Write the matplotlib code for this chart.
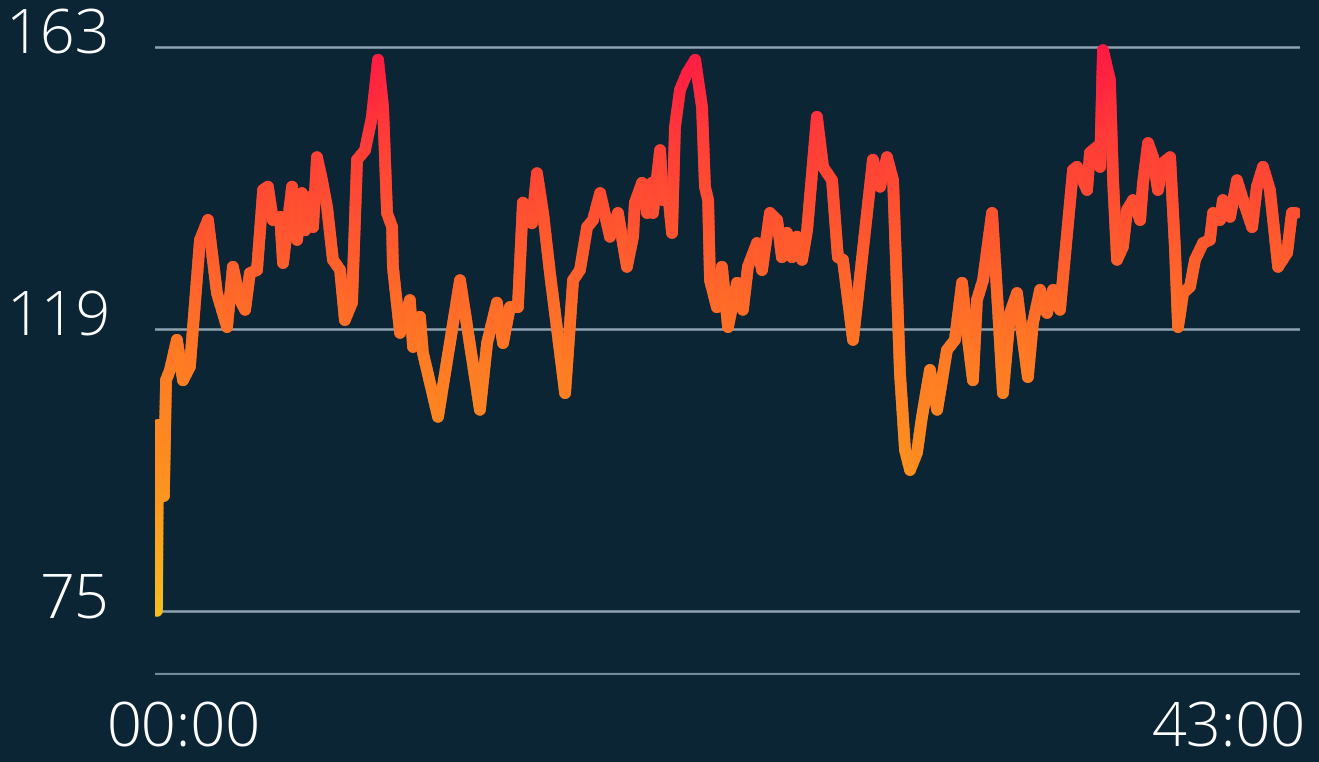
import numpy as np
import matplotlib
matplotlib.use("Agg")
import matplotlib.pyplot as plt
from matplotlib.collections import LineCollection
from matplotlib.colors import LinearSegmentedColormap

# heart rate trace (minutes, bpm)
minutes = [0.00, 0.04, 0.15, 0.19, 0.26, 0.34, 0.49, 0.75, 0.98, 1.24,
           1.62, 1.92, 2.26, 2.64, 2.86, 3.13, 3.32, 3.50, 3.77, 4.00,
           4.18, 4.37, 4.64, 4.75, 5.09, 5.28, 5.46, 5.58, 5.77, 5.88,
           6.03, 6.22, 6.41, 6.63, 6.90, 7.08, 7.35, 7.54, 7.84, 8.10,
           8.33, 8.52, 8.67, 8.86, 8.89, 9.16, 9.53, 9.65, 9.91, 10.02,
           10.59, 11.42, 12.17, 12.44, 12.81, 13.04, 13.30, 13.60, 13.79, 14.13,
           14.32, 14.55, 14.81, 15.38, 15.68, 15.94, 16.21, 16.43, 16.70, 17.07,
           17.37, 17.71, 17.94, 18.01, 18.28, 18.47, 18.65, 18.69, 18.96, 19.07,
           19.26, 19.41, 19.52, 19.71, 19.97, 20.28, 20.54, 20.65, 20.77, 20.84,
           21.10, 21.29, 21.52, 21.86, 22.08, 22.27, 22.61, 22.80, 23.10, 23.37,
           23.55, 23.74, 23.93, 24.12, 24.31, 24.50, 24.87, 25.10, 25.44, 25.66,
           25.85, 26.23, 26.98, 27.25, 27.51, 27.74, 28.00, 28.19, 28.38, 28.64,
           28.83, 29.13, 29.40, 29.77, 30.07, 30.34, 30.53, 30.75, 30.90, 31.13,
           31.47, 31.69, 31.88, 32.15, 32.41, 32.60, 32.82, 33.01, 33.28, 33.54,
           33.77, 34.03, 34.52, 34.67, 35.05, 35.16, 35.42, 35.54, 35.65, 35.91,
           36.03, 36.18, 36.40, 36.56, 36.78, 37.05, 37.16, 37.35, 37.54, 37.72,
           37.91, 38.18, 38.36, 38.48, 38.67, 38.93, 39.12, 39.42, 39.68, 39.80,
           40.06, 40.17, 40.44, 40.70, 40.93, 41.27, 41.45, 41.68, 41.94, 42.25,
           42.59, 42.77, 42.92]
bpm = [75.0, 104.0, 104.0, 93.0, 93.0, 111.0, 112.6, 117.3, 111.0, 113.1,
       132.9, 136.0, 124.6, 119.3, 128.7, 123.5, 122.0, 127.7, 128.2, 140.7,
       141.2, 136.0, 136.5, 129.3, 141.2, 132.9, 140.2, 134.4, 139.6, 134.9,
       145.8, 142.2, 138.0, 129.8, 128.2, 120.4, 123.1, 145.4, 146.9, 152.1,
       161.0, 153.6, 137.1, 134.9, 128.7, 118.4, 123.5, 116.2, 120.9, 115.3,
       105.3, 126.6, 106.4, 116.8, 123.1, 116.8, 122.4, 122.4, 138.7, 135.5,
       143.3, 137.1, 127.7, 109.0, 126.6, 128.2, 134.9, 136.0, 140.2, 133.4,
       137.1, 128.7, 133.4, 138.7, 141.8, 137.1, 141.8, 137.1, 146.9, 139.1,
       140.2, 134.0, 150.5, 156.3, 158.9, 161.0, 153.6, 141.2, 139.1, 126.6,
       122.4, 128.7, 119.3, 126.2, 122.0, 128.7, 132.4, 128.2, 137.1, 136.0,
       130.2, 134.0, 130.2, 133.4, 129.8, 134.4, 152.1, 144.3, 142.2, 130.2,
       129.8, 117.3, 145.4, 141.2, 145.8, 142.2, 112.1, 100.1, 97.0, 99.7,
       105.3, 112.6, 106.4, 115.7, 117.3, 126.2, 118.4, 111.0, 123.5, 126.6,
       137.1, 122.4, 109.0, 121.5, 124.6, 118.4, 111.5, 119.9, 125.1, 121.5,
       125.1, 122.0, 143.8, 144.3, 140.7, 146.5, 147.4, 144.3, 162.5, 157.9,
       142.2, 129.8, 131.8, 137.6, 139.1, 136.0, 141.8, 148.0, 145.8, 140.7,
       144.9, 145.8, 131.8, 119.3, 124.6, 125.6, 129.8, 132.4, 132.9, 137.1,
       136.0, 139.1, 136.5, 142.2, 139.1, 134.9, 141.2, 144.3, 140.7, 128.7,
       130.9, 137.1, 137.1]

grid_values = [75, 119, 163]
x_labels = ["00:00", "43:00"]

bg = "#0b2535"
hr_cmap = LinearSegmentedColormap.from_list(
    "hr", [(0.0, "#f4c01c"), (0.25, "#fd8f1f"), (0.45, "#ff7a24"),
           (0.65, "#ff5a2e"), (0.85, "#ff3a38"), (1.0, "#ff1745")])

fig = plt.figure(figsize=(13.19, 7.62), dpi=100)
fig.patch.set_facecolor(bg)
ax = fig.add_axes([155 / 1319, 87 / 762, 1145 / 1319, 637.6 / 762])
ax.set_facecolor(bg)
ax.set_xlim(-0.075, 43.075)
ax.set_ylim(65, 164.5)
ax.axis("off")

for g in grid_values:
    ax.axhline(g, color="#8ea3b1", lw=1.8, zorder=1)
ax.axhline(65.1, color="#6f8a9b", lw=1.6, zorder=1)

# split the path finely so the colour follows the heart rate smoothly
t = np.asarray(minutes)
v = np.asarray(bpm)
pts_t, pts_v = [t[0]], [v[0]]
for i in range(len(t) - 1):
    n = max(2, int(abs(v[i + 1] - v[i]) / 0.8))
    s = np.linspace(0, 1, n + 1)[1:]
    pts_t.extend(t[i] + (t[i + 1] - t[i]) * s)
    pts_v.extend(v[i] + (v[i + 1] - v[i]) * s)
pts = np.column_stack([pts_t, pts_v])
segs = np.stack([pts[:-1], pts[1:]], axis=1)
mid = (pts[:-1, 1] + pts[1:, 1]) / 2
lc = LineCollection(segs, cmap=hr_cmap, linewidths=8.5, capstyle="round",
                    joinstyle="round", zorder=3)
lc.set_array(mid)
lc.set_clim(75, 163)
ax.add_collection(lc)

font = dict(family=["Open Sans", "DejaVu Sans"], weight="light",
            color="white", fontsize=44)
for g in grid_values:
    ax.annotate(str(g), xy=(0, g), xycoords=("figure fraction", "data"),
                xytext=(110, 9), textcoords="offset pixels",
                ha="right", va="center", **font)

fig.text(107 / 1319, 31 / 762, x_labels[0], ha="left", va="center", **font)
fig.text(1306 / 1319, 31 / 762, x_labels[1], ha="right", va="center", **font)

fig.savefig("out.png", dpi=100, facecolor=bg)
